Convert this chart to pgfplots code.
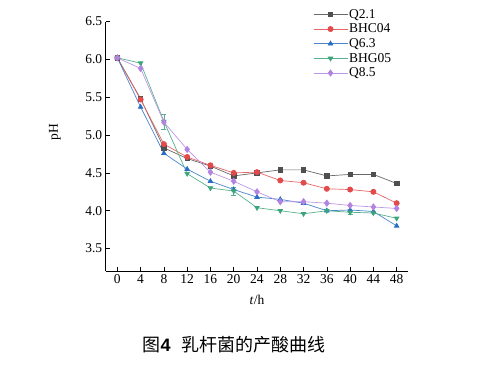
\documentclass[border=0pt]{standalone}
\usepackage{pgfplots}
\pgfplotsset{compat=1.18}
\usepackage{fontspec}
\setmainfont{Liberation Serif}
\newfontfamily\cjk{Noto Sans CJK SC}
\newfontfamily\capsans{Liberation Sans}
\definecolor{cgray}{HTML}{4F4F4F}
\definecolor{cred}{HTML}{E24A4C}
\definecolor{cblue}{HTML}{2A6EC4}
\definecolor{cgreen}{HTML}{3BA57A}
\definecolor{cpurple}{HTML}{B383E0}
\begin{document}
\begin{tikzpicture}[x=1pt,y=1pt]
\path[use as bounding box] (0,0) rectangle (482,365);
\begin{axis}[
  at={(105.7pt,93.7pt)}, anchor=south west,
  scale only axis, width=302.6pt, height=249.8pt,
  xmin=-2, xmax=50, ymin=3.2, ymax=6.5,
  axis x line*=bottom, axis y line*=left,
  xtick={0,4,...,48}, ytick={3.5,4.0,...,6.5},
  yticklabel style={/pgf/number format/fixed,/pgf/number format/fixed zerofill,/pgf/number format/precision=1},
  /pgf/number format/assume math mode=true,
  tick align=inside, major tick length=4pt,
  tick style={black, line width=0.6pt},
  axis line style={black, line width=0.8pt},
  ticklabel style={font=\fontsize{13.5}{15}\selectfont},
  legend style={at={(0.685,1.055)}, anchor=north west, draw=none, fill=none,
    font=\fontsize{13.5}{15}\selectfont, row sep=1.8pt, inner sep=0pt,
    nodes={inner sep=1.2pt}},
  legend cell align=left,
  legend image code/.code={\draw[mark repeat=2,mark phase=2] plot coordinates {(0pt,0pt)(17pt,0pt)(34pt,0pt)};},
  every axis plot/.append style={line width=0.7pt, mark size=2.6pt},
  error bars/error bar style={line width=0.5pt},
  error bars/error mark options={rotate=90, mark size=2.5pt},
]
\addplot[cgray!85, mark=square*, mark options={fill=cgray,draw=cgray, scale=0.85}] coordinates {
(0,6.02)(4,5.48)(8,4.83)(12,4.69)(16,4.59)(20,4.46)(24,4.50)(28,4.54)(32,4.54)(36,4.46)(40,4.48)(44,4.48)(48,4.36)};
\addlegendentry{Q2.1}
\addplot[cred!85, mark=*, mark options={fill=cred,draw=cred}] coordinates {
(0,6.02)(4,5.47)(8,4.88)(12,4.71)(16,4.60)(20,4.50)(24,4.51)(28,4.40)(32,4.37)(36,4.29)(40,4.28)(44,4.25)(48,4.10)};
\addlegendentry{BHC04}
\addplot[cblue!85, mark=triangle*, mark options={fill=cblue,draw=cblue}] coordinates {
(0,6.02)(4,5.37)(8,4.76)(12,4.55)(16,4.39)(20,4.28)(24,4.18)(28,4.15)(32,4.10)(36,4.00)(40,4.01)(44,3.99)(48,3.80)};
\addlegendentry{Q6.3}
\addplot[cgreen!85, mark=triangle*, mark options={fill=cgreen,draw=cgreen,rotate=180},
  error bars/.cd, y dir=both, y explicit] coordinates {
(0,6.02)(4,5.95)(8,5.18) +- (0,0.10) (12,4.49)(16,4.30)(20,4.26) +- (0,0.05) (24,4.04)(28,4.00)(32,3.96)(36,4.00)(40,3.98) +- (0,0.03) (44,3.97)(48,3.90)};
\addlegendentry{BHG05}
\addplot[cpurple!85, mark=diamond*, mark options={fill=cpurple,draw=cpurple, scale=1.2}] coordinates {
(0,6.02)(4,5.88)(8,5.17)(12,4.81)(16,4.51)(20,4.39)(24,4.25)(28,4.12)(32,4.12)(36,4.10)(40,4.07)(44,4.05)(48,4.03)};
\addlegendentry{Q8.5}
\end{axis}
\node[font=\fontsize{13.5}{15}\selectfont] at (257,65) {\textit{t}/h};
\node[font=\fontsize{13.5}{15}\selectfont, rotate=90] at (55,233) {pH};
\node[anchor=base, font=\fontsize{18}{20}\selectfont] at (234,14) {{\cjk 图}{\capsans\bfseries 4}\hspace{0.6em}{\cjk 乳杆菌的产酸曲线}};
\end{tikzpicture}
\end{document}
